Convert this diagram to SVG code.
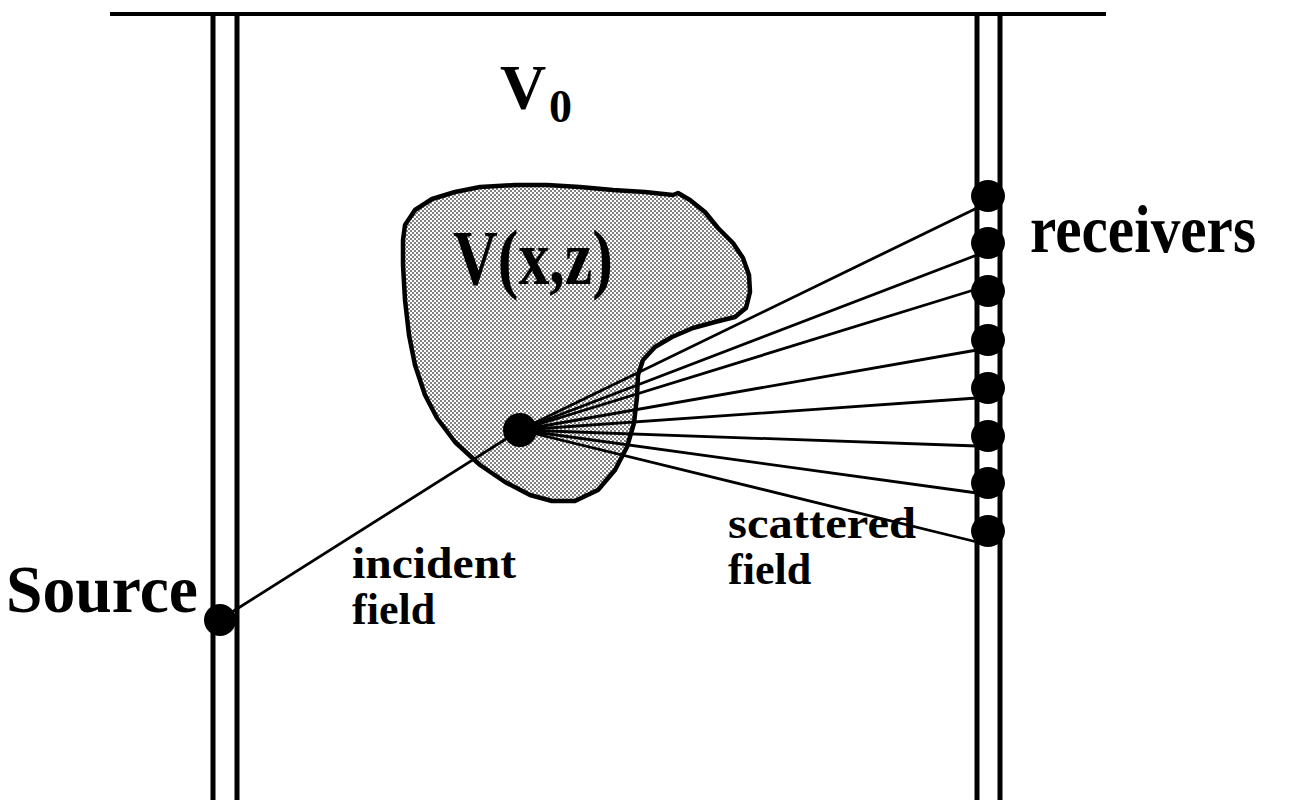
<svg xmlns="http://www.w3.org/2000/svg" width="1290" height="806" viewBox="0 0 1290 806">
<style>
.bore{stroke:#000;stroke-width:5;fill:none}
.ray{stroke:#000;stroke-width:2.8;fill:none;stroke-linecap:round}
.dot{fill:#000}
.lbl{font-family:"Liberation Serif","Times New Roman",serif;font-weight:bold;fill:#000}
</style>
<defs>
<pattern id="stip" width="4" height="4" patternUnits="userSpaceOnUse">
<rect width="4" height="4" fill="#fff"/>
<circle cx="1" cy="1" r="0.9" fill="#444"/>
<circle cx="3" cy="3" r="0.9" fill="#444"/>
</pattern>
</defs>
<rect width="1290" height="806" fill="#fff"/>
<g id="frame">
<line x1="110" y1="14" x2="1106" y2="14" stroke="#000" stroke-width="4"/>
</g>
<g id="left-borehole">
<line class="bore" x1="213" y1="14" x2="213" y2="800"/>
<line class="bore" x1="237" y1="14" x2="237" y2="800"/>
</g>
<g id="right-borehole">
<line class="bore" x1="977" y1="14" x2="977" y2="800"/>
<line class="bore" x1="1000" y1="14" x2="1000" y2="800"/>
</g>
<g id="scatterer">
<path d="M405,225 L415,210 L432,199 L455,192 L480,187 L515,185 L547,185 L580,187 L613,190 L645,192 L673,195 L678,193 L690,200 L705,212 L718,228 L733,243 L743,258 L749,275 L750,292 L746,308 L735,317 L715,322 L693,328 L672,337 L655,347 L643,360 L638,375 L637,397 L634,423 L627,447 L615,470 L598,490 L575,501 L552,501 L530,495 L505,482 L480,465 L455,442 L437,418 L425,395 L415,365 L409,335 L405,300 L403,265 L403,240 Z" fill="url(#stip)" stroke="#000" stroke-width="4.5" stroke-linejoin="round"/>
<text class="lbl" transform="translate(453,284) scale(1,1.12)" font-size="70" textLength="160" lengthAdjust="spacingAndGlyphs">V(x,z)</text>
</g>
<g id="connectors">
<line class="ray" x1="232" y1="612" x2="520" y2="430"/>
<line class="ray" x1="520" y1="430" x2="977" y2="208"/>
<line class="ray" x1="520" y1="430" x2="977" y2="255"/>
<line class="ray" x1="520" y1="430" x2="977" y2="289"/>
<line class="ray" x1="520" y1="430" x2="977" y2="350"/>
<line class="ray" x1="520" y1="430" x2="977" y2="398"/>
<line class="ray" x1="520" y1="430" x2="977" y2="446"/>
<line class="ray" x1="520" y1="430" x2="977" y2="493"/>
<line class="ray" x1="520" y1="430" x2="977" y2="542"/>
</g>
<g id="scatter-point">
<circle class="dot" cx="520" cy="430" r="17"/>
</g>
<g id="source">
<circle class="dot" cx="220" cy="620" r="16"/>
<text class="lbl" transform="translate(6,612) scale(1,1.12)" font-size="60" textLength="192" lengthAdjust="spacingAndGlyphs">Source</text>
</g>
<g id="receivers">
<ellipse class="dot" cx="988" cy="196" rx="17" ry="16"/>
<ellipse class="dot" cx="988" cy="243" rx="17" ry="16"/>
<ellipse class="dot" cx="988" cy="291" rx="17" ry="16"/>
<ellipse class="dot" cx="988" cy="340" rx="17" ry="16"/>
<ellipse class="dot" cx="988" cy="388" rx="17" ry="16"/>
<ellipse class="dot" cx="988" cy="436" rx="17" ry="16"/>
<ellipse class="dot" cx="988" cy="483" rx="17" ry="16"/>
<ellipse class="dot" cx="988" cy="531" rx="17" ry="16"/>
<text class="lbl" transform="translate(1030,252) scale(1,1.12)" font-size="60" textLength="226" lengthAdjust="spacingAndGlyphs">receivers</text>
</g>
<g id="v0">
<text class="lbl" x="500" y="109" font-size="64">V</text>
<text class="lbl" x="549" y="122" font-size="46">0</text>
</g>
<g id="incident-label">
<text class="lbl" x="352" y="578" font-size="44" textLength="164" lengthAdjust="spacingAndGlyphs">incident</text>
<text class="lbl" x="352" y="624" font-size="44">field</text>
</g>
<g id="scattered-label">
<text class="lbl" x="728" y="538" font-size="44" textLength="188" lengthAdjust="spacingAndGlyphs">scattered</text>
<text class="lbl" x="728" y="584" font-size="44">field</text>
</g>
</svg>
